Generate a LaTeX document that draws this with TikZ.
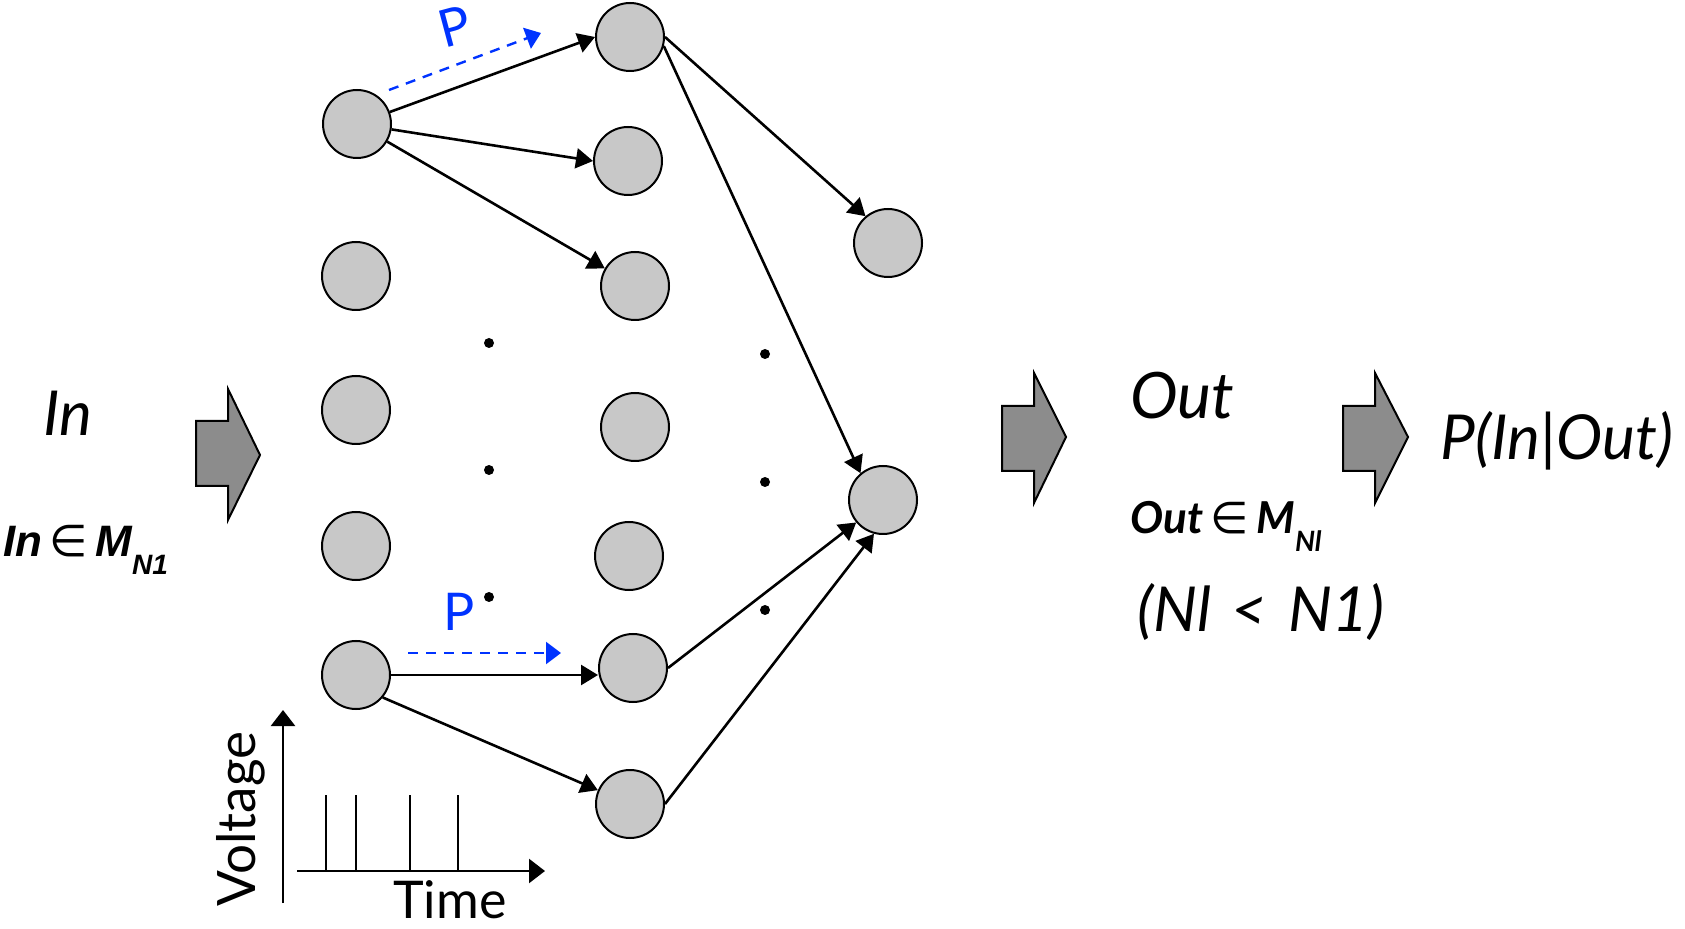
\documentclass[tikz,border=0pt]{standalone}
\usepackage{fontspec}
\setmainfont{Lato}
\newfontfamily\arialfont{Liberation Sans}
\newfontfamily\symfont{DejaVu Sans}
\usetikzlibrary{arrows.meta}
\definecolor{cellgray}{RGB}{200,200,200}
\definecolor{blockgray}{RGB}{140,140,140}
\definecolor{pblue}{RGB}{0,51,255}
\newcommand{\fsz}[1]{\fontsize{#1}{#1}\selectfont}

\tikzset{
  cell/.style={circle, draw=black, line width=1pt, fill=cellgray, minimum size=34pt, inner sep=0pt},
  link/.style={-{Triangle[length=8.5pt,width=10pt]}, line width=1.3pt},
  plink/.style={-{Triangle[length=7.5pt,width=11pt]}, pblue, line width=1.2pt, dash pattern=on 5pt off 4pt},
  axis/.style={-{Triangle[length=8pt,width=12pt]}, line width=1.2pt},
  block/.style={fill=blockgray, draw=black, line width=1pt},
  dotmark/.style={circle, fill=black, inner sep=0pt, minimum size=5pt}
}

\begin{document}
\begin{tikzpicture}[x=0.5pt, y=-0.5pt]
            \useasboundingbox (0,0) rectangle (1685,929);
            % input layer
            \node[cell] (i1) at (357,124) {};
            \node[cell] (i2) at (356,276) {};
            \node[cell] (i3) at (356,410) {};
            \node[cell] (i4) at (356,546) {};
            \node[cell] (i5) at (356,675) {};
            % hidden layer
            \node[cell] (h1) at (630,37)  {};
            \node[cell] (h2) at (628,161) {};
            \node[cell] (h3) at (635,286) {};
            \node[cell] (h4) at (635,427) {};
            \node[cell] (h5) at (629,556) {};
            \node[cell] (h6) at (633,668) {};
            \node[cell] (h7) at (630,804) {};
            % output layer
            \node[cell] (o1) at (888,243) {};
            \node[cell] (o2) at (883,500) {};
            % dots
            \foreach \y in {343,470,597} \node[dotmark] (da\y) at (489,\y) {};
            \foreach \y in {354,482,610} \node[dotmark] (db\y) at (765,\y) {};
            % connections
            \draw[link] (i1) -- (h1.west);
            \draw[link] (i1) -- (h2.west);
            \draw[link] (i1) -- (h3);
            \draw[link] (i5.east) -- (i5.east -| h6.west);
            \draw[link] (i5.-40) -- (h7);
            \draw[link] (h1.east) -- (o1.130);
            \draw[link] (h1.-15) -- (o2.130);
            \draw[link] (h6.east) -- (o2.-140);
            \draw[link] (h7.east) -- (o2.-105);
            % P transitions
            \coordinate (pa1) at (389,90);  \coordinate (pa2) at (541,33);
            \coordinate (pb1) at (408,653); \coordinate (pb2) at (561,653);
            \draw[plink] (pa1) -- (pa2);
            \draw[plink] (pb1) -- (pb2);
            \node[pblue, rotate=15] (ptop) at (455,26) {\fsz{26}P};
            \node[pblue] (pbot) at (459,612) {\fsz{26}P};
            % block arrows
            \filldraw[block] (196,421) -- (228,421) -- (228,389) -- (260,455) -- (228,520) -- (228,486) -- (196,486) -- cycle;
            \filldraw[block] (1002,406) -- (1034,406) -- (1034,373) -- (1066,437) -- (1034,503) -- (1034,471) -- (1002,471) -- cycle;
            \filldraw[block] (1343,406) -- (1375,406) -- (1375,373) -- (1408,437) -- (1375,503) -- (1375,471) -- (1343,471) -- cycle;
            % texts
            \node[anchor=base west, inner sep=0pt] (tin) at (43,436) {\fsz{31}\itshape In};
            \node[anchor=base west, inner sep=0pt] (tinset) at (3,557)
                 {\fsz{22}{\arialfont\bfseries\itshape In}\,{\symfont ∈}\,{\arialfont\bfseries\itshape M}\raisebox{-0.4em}{\fsz{14}\arialfont\bfseries\itshape N1}};
            \node[anchor=base west, inner sep=0pt] (tout) at (1130,419) {\fsz{32}\itshape Out};
            \node[anchor=base west, inner sep=0pt] (toutset) at (1130,534)
                 {\fsz{22}{\bfseries\itshape Out}\,{\symfont ∈}\,{\bfseries\itshape M}\raisebox{-0.4em}{\fsz{14}\bfseries\itshape Nl}};
            \node[anchor=base west, inner sep=0pt] (tcmp) at (1137,632) {\fsz{31}\itshape (Nl\,\,<\,\,N1)};
            \node[anchor=base west, inner sep=0pt] (tprob) at (1440,460) {\fsz{31}\itshape P(In|Out)};
            % spike train inset
            \coordinate (vb) at (283,903); \coordinate (vt) at (283,710);
            \coordinate (tl) at (297,871); \coordinate (tr) at (545,871);
            \draw[axis] (vb) -- (vt);
            \draw[axis] (tl) -- (tr);
            \foreach \t in {326,356,410,458} \draw[line width=1.1pt] (\t,871) -- (\t,795);
            \node[anchor=base west, inner sep=0pt] (ttime) at (393,918) {\fsz{26}Time};
            \node[anchor=base west, inner sep=0pt, rotate=90] (tvolt) at (255,907) {\fsz{26.5}Voltage};
\end{tikzpicture}
\end{document}
